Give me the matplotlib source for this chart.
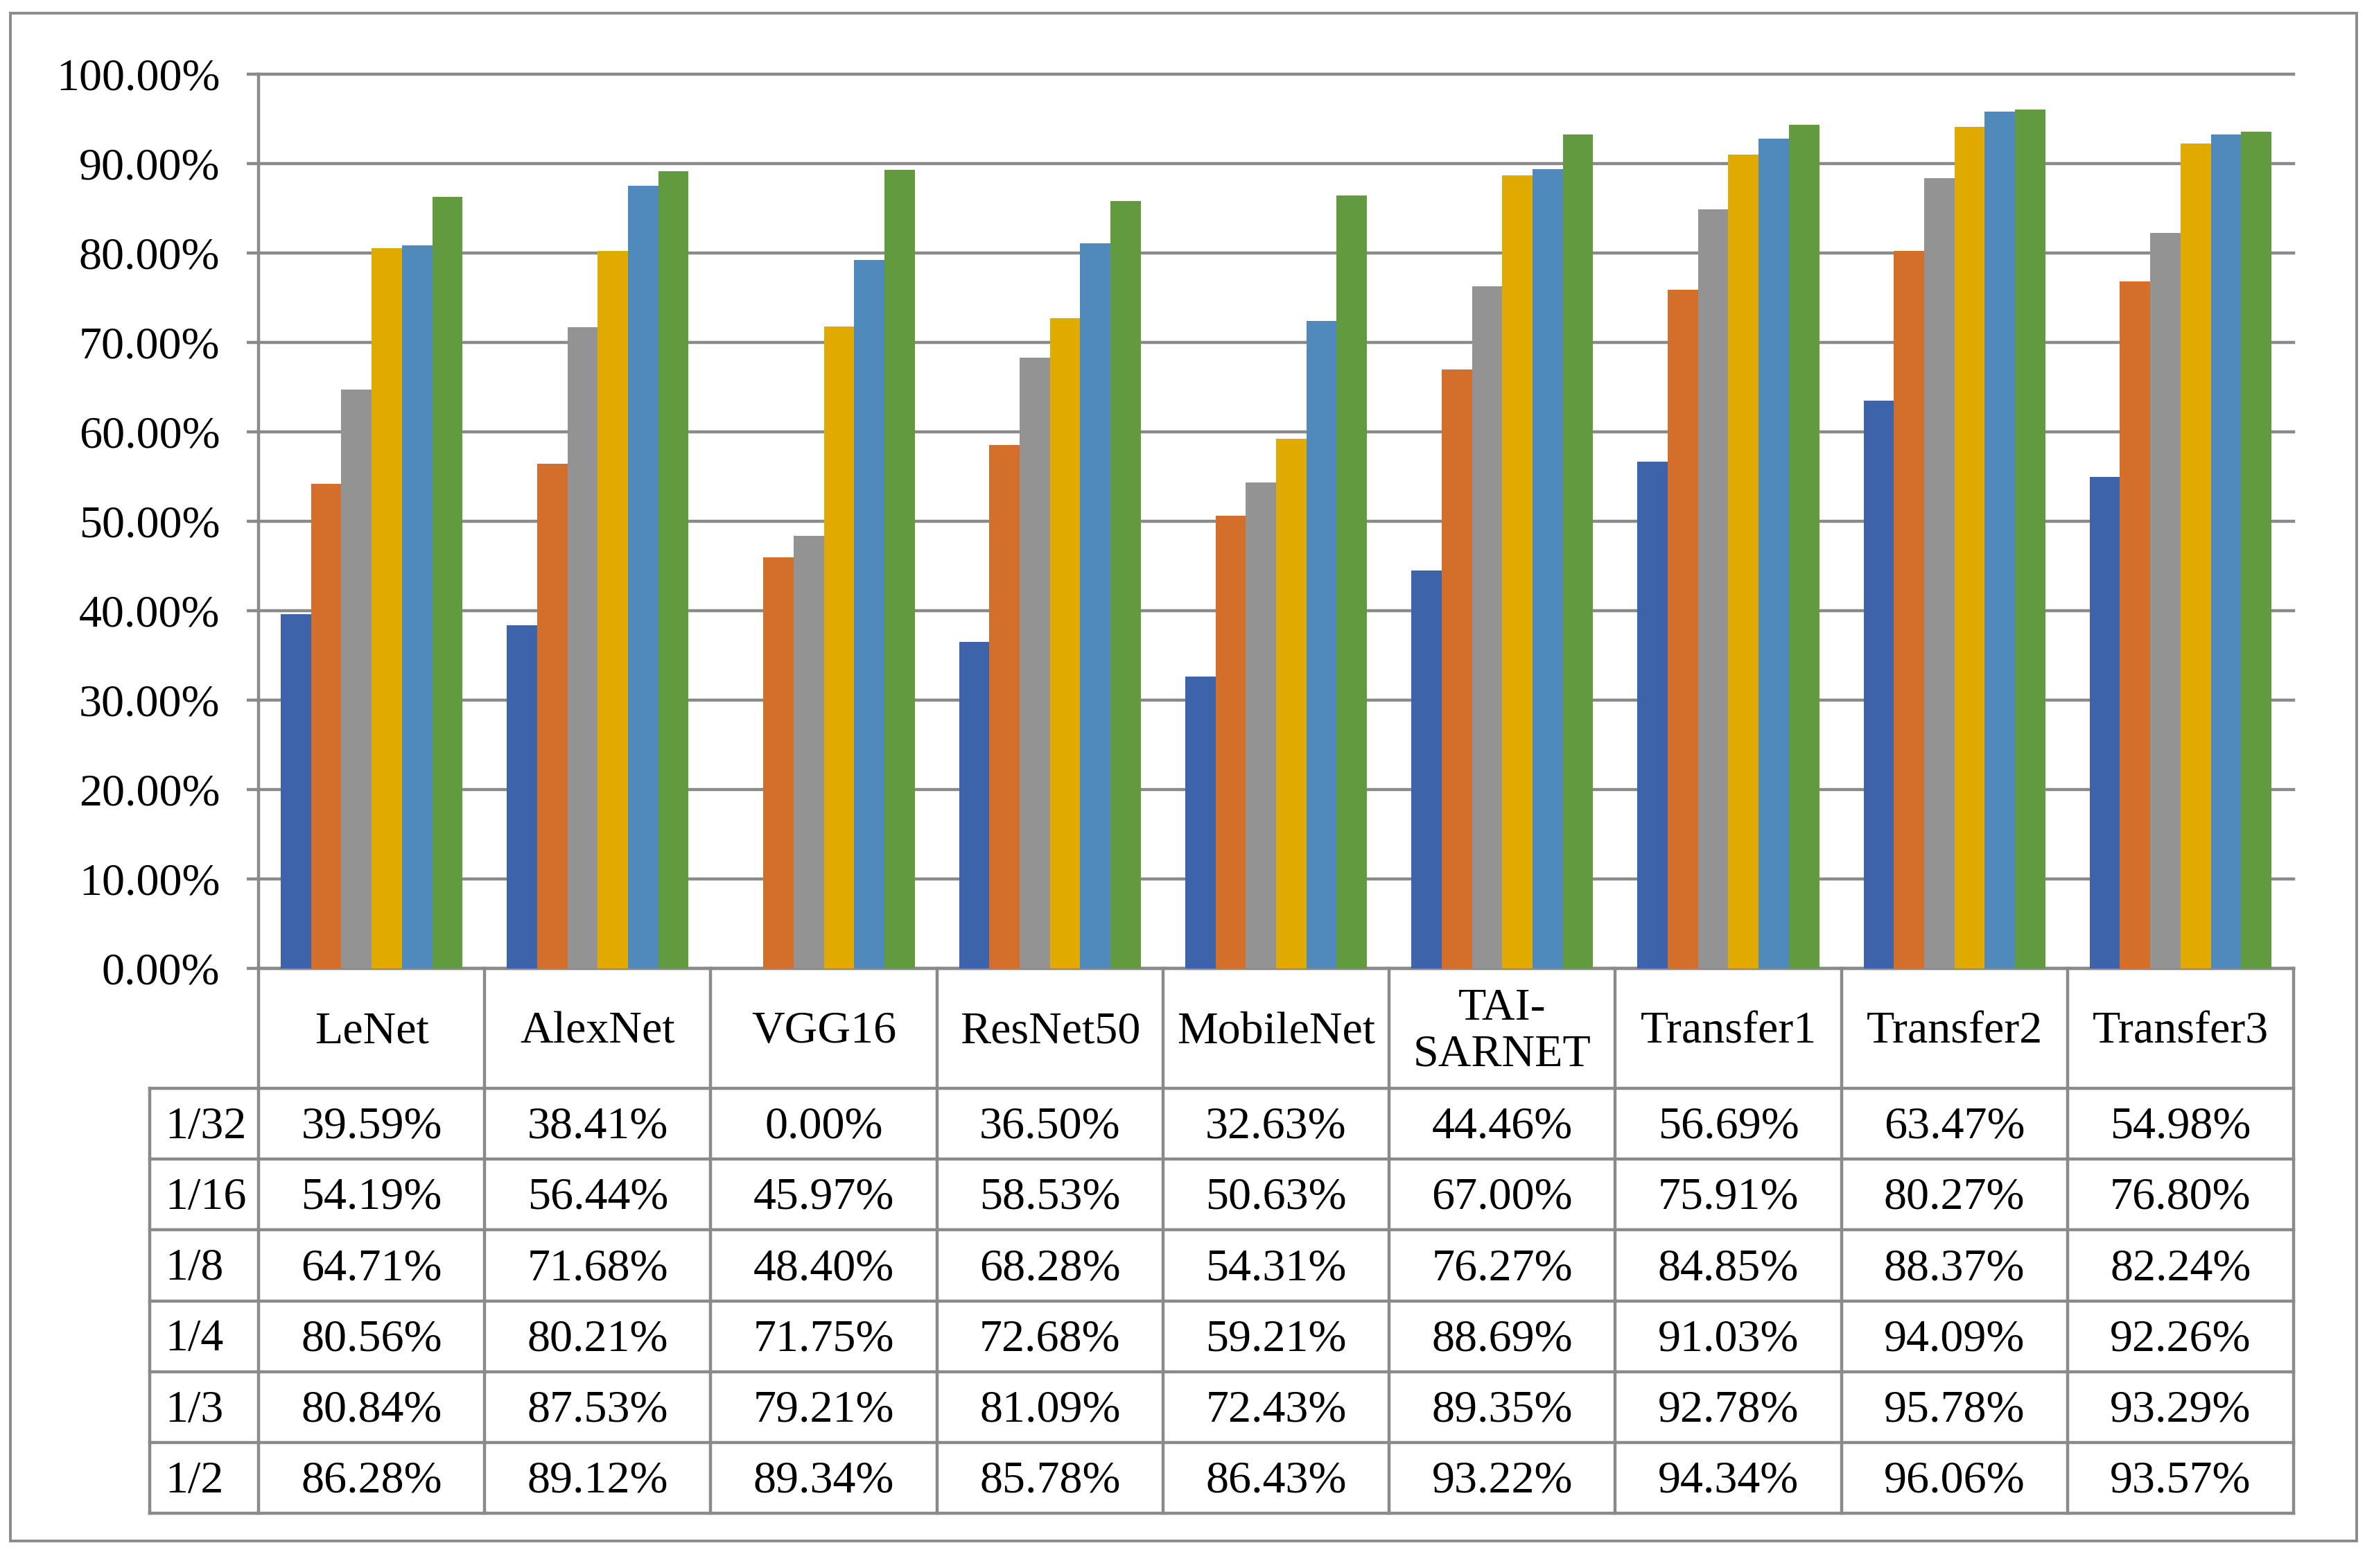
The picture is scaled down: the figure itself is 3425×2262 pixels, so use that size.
import matplotlib
matplotlib.use("Agg")
import matplotlib.pyplot as plt
from matplotlib.transforms import blended_transform_factory
from matplotlib.ticker import FuncFormatter, MultipleLocator
from matplotlib.patches import Rectangle
import numpy as np

models = ["LeNet", "AlexNet", "VGG16", "ResNet50", "MobileNet", "TAI-\nSARNET",
          "Transfer1", "Transfer2", "Transfer3"]
ratios = ["1/32", "1/16", "1/8", "1/4", "1/3", "1/2"]
acc_1_32 = [39.59, 38.41, 0.00, 36.50, 32.63, 44.46, 56.69, 63.47, 54.98]
acc_1_16 = [54.19, 56.44, 45.97, 58.53, 50.63, 67.00, 75.91, 80.27, 76.80]
acc_1_8 = [64.71, 71.68, 48.40, 68.28, 54.31, 76.27, 84.85, 88.37, 82.24]
acc_1_4 = [80.56, 80.21, 71.75, 72.68, 59.21, 88.69, 91.03, 94.09, 92.26]
acc_1_3 = [80.84, 87.53, 79.21, 81.09, 72.43, 89.35, 92.78, 95.78, 93.29]
acc_1_2 = [86.28, 89.12, 89.34, 85.78, 86.43, 93.22, 94.34, 96.06, 93.57]
series = [acc_1_32, acc_1_16, acc_1_8, acc_1_4, acc_1_3, acc_1_2]
colors = ["#3D64AB", "#D36F2B", "#939393", "#E0AA00", "#508ABD", "#629A3F"]

plt.rcParams['font.family'] = ['Liberation Serif', 'DejaVu Serif']
FS = 47.5
GREY = "#8A8A8A"
LW = 3.2

W, H = 3425, 2262
fig = plt.figure(figsize=(W / 100, H / 100), dpi=100)
fig.patch.set_facecolor("white")

# plot area in pixels
L, R, T, B = 373, 3309, 107, 1397
ax = fig.add_axes([L / W, 1 - B / H, (R - L) / W, (B - T) / H])

n = len(models)
x = np.arange(n)
bw = 0.804 / len(series)
for i, (vals, c) in enumerate(zip(series, colors)):
    ax.bar(x + (i - (len(series) - 1) / 2) * bw, np.array(vals) / 100.0, width=bw,
           color=c, linewidth=0, zorder=3)

ax.set_xlim(-0.5, n - 0.5)
ax.set_ylim(0, 1.0)
ax.yaxis.set_major_locator(MultipleLocator(0.1))
ax.yaxis.set_major_formatter(FuncFormatter(lambda v, p: f"{v * 100:.2f}%"))
ax.set_xticks([])
ax.yaxis.grid(True, color=GREY, linewidth=LW)
ax.set_axisbelow(True)
for gl in ax.get_ygridlines():
    gl.set_clip_on(False)
for s in ["top", "right"]:
    ax.spines[s].set_visible(False)
for s in ["left", "bottom"]:
    ax.spines[s].set_color(GREY)
    ax.spines[s].set_linewidth(LW)
ax.tick_params(axis='y', length=12, width=LW, color=GREY, pad=28,
               labelsize=FS, labelcolor="black")

# table (x in data units, y in axes units)
tr = blended_transform_factory(ax.transData, ax.transAxes)
ph = B - T
unit = (R - L) / n
y_head = -(1570 - B) / ph
y_bot = -(2183 - B) / ph
row_h = (y_head - y_bot) / len(ratios)
x_lab = -0.5 - (L - 216) / unit
x_right = n - 0.5
dy = -5 / ph  # small downward nudge of cell text

def line(xs, ys):
    ax.plot(xs, ys, color=GREY, lw=LW, transform=tr, clip_on=False,
            solid_capstyle='projecting', zorder=5)

# header verticals
for k in range(n + 1):
    line([k - 0.5, k - 0.5], [0, y_bot])
line([x_lab, x_lab], [y_head, y_bot])
for r in range(len(ratios) + 1):
    yy = y_head - r * row_h
    line([x_lab, x_right], [yy, yy])

for k, m in enumerate(models):
    ax.text(k, y_head / 2 + dy, m, transform=tr, ha='center', va='center',
            fontsize=FS, linespacing=1.15)

for r, (lab, vals) in enumerate(zip(ratios, series)):
    yc = y_head - (r + 0.5) * row_h + dy
    ax.text(x_lab + 22 / unit, yc, lab, transform=tr, ha='left', va='center',
            fontsize=FS)
    for k, v in enumerate(vals):
        ax.text(k, yc, f"{v:.2f}%", transform=tr, ha='center', va='center',
                fontsize=FS)

# outer border
fig.patches.append(Rectangle((15 / W, 1 - 2223 / H), (3400 - 15) / W, (2223 - 19) / H,
                             transform=fig.transFigure, fill=False, ec=GREY, lw=2.8))

fig.savefig("out.png", dpi=100, facecolor="white")
